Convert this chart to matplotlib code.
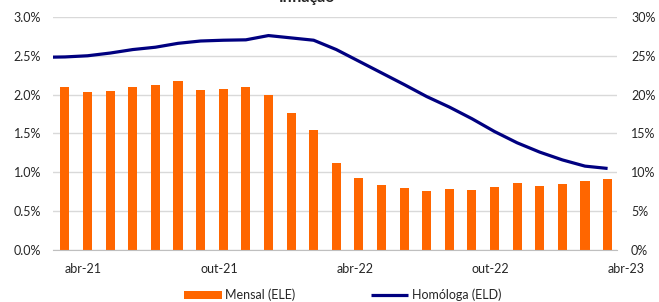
import numpy as np
import matplotlib.pyplot as plt
from matplotlib.ticker import FuncFormatter

plt.rcParams['font.family'] = ['Lato', 'DejaVu Sans']

# months abr-21 .. abr-23
months = ['abr-21', 'mai-21', 'jun-21', 'jul-21', 'ago-21', 'set-21', 'out-21', 'nov-21',
          'dez-21', 'jan-22', 'fev-22', 'mar-22', 'abr-22', 'mai-22', 'jun-22', 'jul-22',
          'ago-22', 'set-22', 'out-22', 'nov-22', 'dez-22', 'jan-23', 'fev-23', 'mar-23', 'abr-23']

# mensal (%), left axis
mensal = [2.10, 2.03, 2.05, 2.10, 2.12, 2.17, 2.06, 2.07, 2.10, 2.00, 1.76, 1.55,
          1.12, 0.93, 0.84, 0.80, 0.76, 0.79, 0.77, 0.81, 0.86, 0.83, 0.85, 0.89, 0.91]

# homologa (%), right axis; first value is mar-21 (left of the axis edge)
homologa_mar21 = 24.8
homologa = [24.85, 25.0, 25.35, 25.8, 26.1, 26.6, 26.9, 27.0, 27.05, 27.6, 27.3, 27.0,
            25.8, 24.3, 22.8, 21.3, 19.75, 18.4, 16.9, 15.25, 13.8, 12.6, 11.6, 10.8, 10.5]

tick_idx = [0, 6, 12, 18, 24]

orange = '#FF6600'
navy = '#000080'
grid_c = '#d9d9d9'

fig = plt.figure(figsize=(6.59, 3.02), dpi=100)
ax = fig.add_axes([0.0804, 0.172, 0.856, 0.772])
ax2 = ax.twinx()

x = np.arange(len(months))
bars = ax.bar(x, mensal, width=0.4, color=orange, zorder=2, label='Mensal (ELE)')

xl = np.concatenate([[-1], x])
yl = [homologa_mar21] + homologa
line, = ax2.plot(xl, yl, color=navy, lw=2.3, zorder=3, label='Homóloga (ELD)',
                 solid_capstyle='butt')

ax.set_xlim(-0.53, 24.42)
ax.set_ylim(0, 3.0)
ax2.set_ylim(0, 30)
ax.set_yticks(np.arange(0, 3.01, 0.5))
ax2.set_yticks(np.arange(0, 31, 5))
ax.yaxis.set_major_formatter(FuncFormatter(lambda v, p: '%.1f%%' % v))
ax2.yaxis.set_major_formatter(FuncFormatter(lambda v, p: '%d%%' % v))

ax.set_xticks(x[tick_idx])
ax.set_xticklabels([months[i] for i in tick_idx], ha='left')

ax.grid(axis='y', color=grid_c, lw=1, zorder=0)
ax.set_axisbelow(True)
for a in (ax, ax2):
    for s in ['top', 'left', 'right']:
        a.spines[s].set_visible(False)
    a.spines['bottom'].set_visible(False)
    a.tick_params(length=0, labelsize=9, colors='#262626')
ax.spines['bottom'].set_visible(True)
ax.spines['bottom'].set_color('#bfbfbf')
ax.tick_params(axis='y', pad=8.5)
ax.tick_params(axis='x', pad=9)
ax2.tick_params(axis='y', pad=10)

fig.text(0.466, 0.985, 'Inflação', ha='center', va='bottom', fontsize=11.5,
         fontweight='bold', color='#262626')

fig.legend(handles=[bars, line], loc='center', bbox_to_anchor=(0.52, 0.023), ncol=2,
           frameon=False, fontsize=9, handlelength=3.0, handletextpad=0.3,
           columnspacing=6.0, handleheight=0.6, borderpad=0, labelcolor='#262626')

fig.savefig('out.png', dpi=100)
